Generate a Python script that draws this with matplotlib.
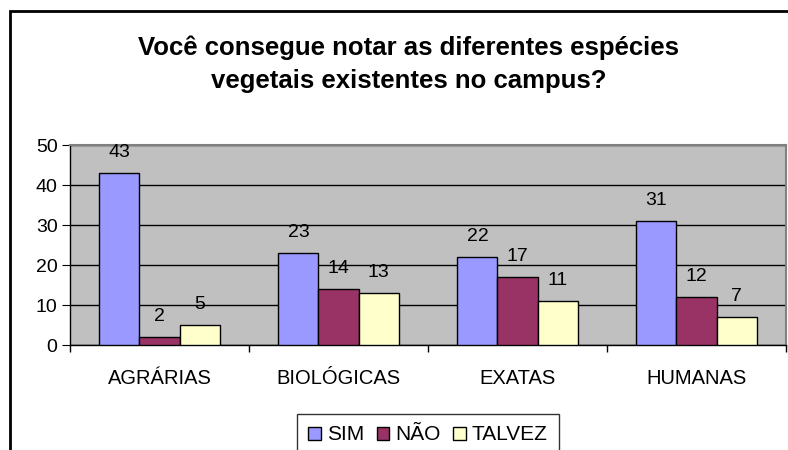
import matplotlib.pyplot as plt
import numpy as np
from matplotlib.patches import Rectangle

plt.rcParams['font.family'] = ['Liberation Sans', 'DejaVu Sans']

# Survey data
categories = ['AGRÁRIAS', 'BIOLÓGICAS', 'EXATAS', 'HUMANAS']
sim = [43, 23, 22, 31]
nao = [2, 14, 17, 12]
talvez = [5, 13, 11, 7]
series_names = ['SIM', 'NÃO', 'TALVEZ']
colors = ['#9999FF', '#993366', '#FFFFCC']

fig = plt.figure(figsize=(7.88, 4.5), dpi=100)
ax = fig.add_axes([70 / 788, 1 - 345 / 450, 716 / 788, 199.5 / 450])
ax.set_facecolor('#C0C0C0')

x = np.arange(len(categories))
w = 0.224
for i, (vals, name, c) in enumerate(zip([sim, nao, talvez], series_names, colors)):
    bars = ax.bar(x + (i - 1) * w, vals, w, color=c, edgecolor='black',
                  linewidth=1, label=name, zorder=3)
    for b, v in zip(bars, vals):
        ax.annotate(str(v), (b.get_x() + b.get_width() / 2, v),
                    xytext=(0, 9), textcoords='offset points',
                    ha='center', va='bottom', fontsize=14)

ax.set_xlim(-0.5, 3.5)
ax.set_ylim(0, 50)
ax.set_yticks(range(0, 51, 10))
ax.yaxis.grid(True, color='black', linewidth=1, zorder=0)
ax.set_axisbelow(True)

ax.set_xticks(x)
ax.set_xticklabels(categories, fontsize=14.5)
ax.set_xticks(np.arange(-0.5, 4, 1), minor=True)
ax.tick_params(axis='x', which='major', length=0, pad=17)
ax.tick_params(axis='x', which='minor', length=5, color='black', width=1)
ax.tick_params(axis='y', length=6, labelsize=14, pad=3)

for s in ['top', 'right']:
    ax.spines[s].set_color('#808080')
    ax.spines[s].set_linewidth(1.5)
for s in ['left', 'bottom']:
    ax.spines[s].set_color('black')
    ax.spines[s].set_linewidth(1)

fig.text(409 / 788, 1 - 64 / 450,
         'Você consegue notar as diferentes espécies\nvegetais existentes no campus?',
         ha='center', va='center', fontsize=18.5, fontweight='bold', linespacing=1.45)

leg = fig.legend(loc='upper center', bbox_to_anchor=(428 / 788, 1 - 414 / 450),
                 ncol=3, fontsize=15, frameon=True, fancybox=False,
                 edgecolor='black', handlelength=0.6, handleheight=0.6,
                 handletextpad=0.3, columnspacing=0.6, borderpad=0.55,
                 borderaxespad=0)
leg.get_frame().set_linewidth(1)

# outer chart frame (only left and top edges visible)
fig.patches.append(Rectangle((10 / 788, -0.1), 1.1, 1.1 - 11 / 450,
                             transform=fig.transFigure, fill=False,
                             edgecolor='black', linewidth=2))

fig.savefig('out.png', dpi=100)
